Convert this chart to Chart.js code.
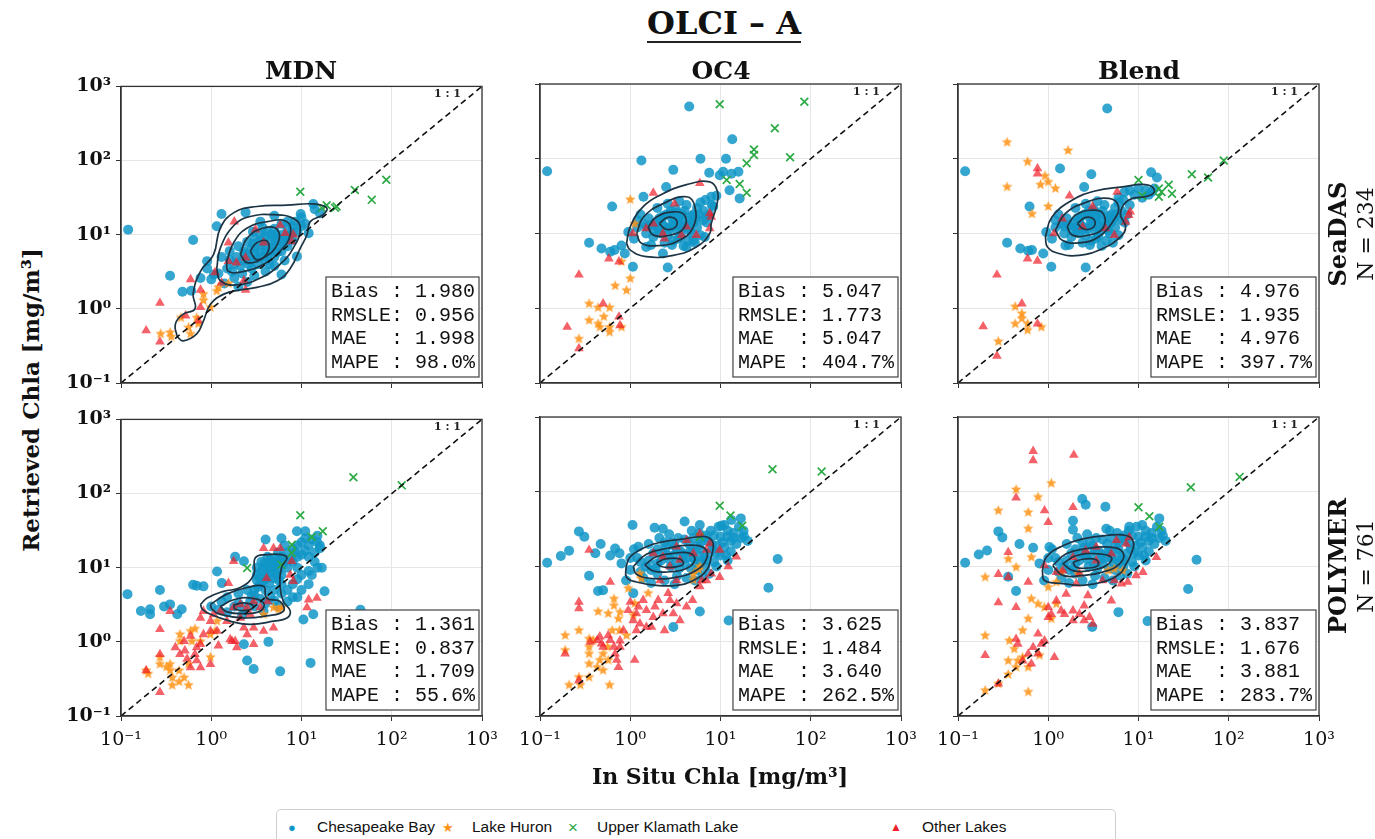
<!DOCTYPE html>
<html>
<head>
<meta charset="utf-8">
<script src="https://cdn.jsdelivr.net/npm/chart.js@4.4.0/dist/chart.umd.min.js"></script>
<style>
  body { margin:0; background:#fff; width:1375px; height:839px; position:relative; overflow:hidden; font-family:"DejaVu Serif", serif; color:#111; }
  canvas.panel { position:absolute; }
  #title { position:absolute; left:0; top:4px; width:1448px; text-align:center; font:bold 32px "DejaVu Serif"; line-height:38px; }
  #title span { display:inline-block; border-bottom:2.5px solid #222; line-height:36px; }
  .lbl { position:absolute; white-space:nowrap; line-height:1; color:#111; }
  #legend { position:absolute; left:276px; top:809px; width:838px; height:40px; border:1px solid #cfcfcf; border-radius:5px; font:15.5px "Liberation Sans", sans-serif; }
  #legend span { position:absolute; top:17px; transform:translateY(-50%); white-space:nowrap; line-height:1; }
</style>
</head>
<body>
<div id="title"><span>OLCI – A</span></div>
<div id="legend">
  <span style="left:11px;color:rgb(16,150,200);font-size:13px">●</span><span style="left:40px">Chesapeake Bay</span>
  <span style="left:165px;color:rgb(255,146,20);font-size:13px">★</span><span style="left:195px">Lake Huron</span>
  <span style="left:291px;color:rgb(44,170,70);font-size:17px">×</span><span style="left:320px">Upper Klamath Lake</span>
  <span style="left:613px;color:rgb(240,30,40);font-size:12px">▲</span><span style="left:645px">Other Lakes</span>
</div>
<script>
// axis ticks
var decades = [0.1, 1, 10, 100, 1000];
var tickLabels = ['10⁻¹', '10⁰', '10¹', '10²', '10³'];
var statNames = ['Bias', 'RMSLE', 'MAE', 'MAPE'];
var oneToOne = [[0.1, 0.1], [1000, 1000]];

// ---- SeaDAS row (N = 234) ----
var mdnSeadasBay = [[0.12,11.7],[0.63,8.5],[0.35,2.8],[0.48,1.7],[0.6,1.75],[1.3,19],[2.4,20],[1.15,13],[0.9,4.4],[0.76,2.6],[1.07,2.9],[8.9,5.1],[6,2.9],[9.8,19],[13.5,26],[10,17],[12,10.5],[16,19.5],[14,22],[11,14],[7,15],[5,18],[3.5,15],
  [1.2,3],[1.5,3.5],[1.8,4],[2.2,4.5],[2.6,5],[3,5.5],[3.5,6],[4,7],[4.5,8],[5,9],[6,10],[7,12],[8,13],[1.3,5],[1.6,6],[2,7],[2.5,8],[3,9],[3.5,10],[4.2,11],[5,12],[6,14],
  [1.4,2.2],[1.8,2.6],[2.2,3],[2.8,3.5],[3.3,4],[4,4.5],[5,5],[6,6],[7,7],[8,8.5],[2,2],[2.5,2.3],[3,2.8],[4,3.2],[5,3.8],[6.5,4.5],[2.3,6],[2.8,6.5],[3.8,8],[4.5,6],[5.5,7],
  [3.2,4.8],[2.6,4],[4.2,5.2],[5.2,10],[6,8],[7.5,10],[1.7,3.2],[1,2.5],[0.9,3.5],[9,11],[10,13],[8.5,15],[3.7,12.5],[2.9,11],
  [2.4,5.5],[2.9,7.5],[3.4,8],[3.9,9.5],[4.6,10],[4.8,6.8],[5.6,8.5],[6.5,9],[3.6,5],[4.4,4],[2.1,3.8],[1.9,5],[2.7,4.4],[3.1,6.6],[4,6],[5.4,5.8],[6.8,8],[7,9.5],[8,11],[1.6,4.6]];
var mdnSeadasHuron = [[0.275,0.46],[0.35,0.48],[0.36,0.42],[0.46,0.76],[0.56,0.56],[0.59,0.46],[0.69,0.76],[0.82,1.58],[0.98,1.05],[1.15,1.74],[0.82,1.3],[0.72,0.63],[1.55,2.2],[1.2,1.95]];
var mdnSeadasKlamath = [[9.7,38],[16.8,23],[19,25],[23.5,23],[24.5,24],[39,40],[60,29.5],[87,55]];
var mdnSeadasOther = [[0.19,0.51],[0.27,1.2],[0.27,0.36],[0.52,0.81],[0.59,2.5],[0.76,1.8],[0.76,1.05],[0.72,0.69],[1.1,3.1],[1.3,2.25],[1.55,4.4],[1.8,15],[2.4,4.9],[3.1,11.7],[2.3,2.4],[3.8,7.8],[5.8,13.5],[6.6,10.5],[8.1,10],[7.8,8.1],[2.4,1.8],[1.55,7.8],[1.9,4.2]];
var mdnSeadasContours = [
  [[0.42,0.42],[0.4,0.62],[0.49,0.85],[0.66,1.0],[0.63,1.6],[0.76,3.2],[1.06,5.4],[1.26,12.3],[1.8,20],[3.2,24],[6.9,25],[13.5,26],[19,23],[17.4,18.6],[12.5,15],[11.5,10],[9.7,6.6],[7.5,3.5],[5.4,2.4],[3.2,1.95],[2.1,1.8],[1.38,1.58],[0.98,1.15],[0.82,0.69],[0.69,0.46],[0.49,0.37],[0.42,0.42]],
  [[1.15,3.5],[1.26,6.6],[1.8,13.5],[2.7,17.6],[4.9,18.6],[8.1,16.6],[9.7,12.3],[8.1,6.6],[5.8,4],[3.5,2.6],[1.9,2.1],[1.26,2.4],[1.15,3.5]],
  [[1.48,4.4],[1.8,8.1],[2.5,12.3],[4.2,15],[6.9,15],[7.5,10],[5.8,6],[3.8,4],[2.3,3.2],[1.55,3.2],[1.48,4.4]],
  [[2.1,5.4],[2.5,9],[3.8,12.3],[5.4,11.7],[5.4,7.4],[3.8,4.9],[2.5,4.2],[2.1,5.4]],
  [[2.7,6],[3.2,7.8],[4.2,8.1],[4.2,5.7],[3.2,4.6],[2.7,6]]];
var mdnSeadasStats = ['1.980', '0.956', '1.998', '98.0%'];

var seadasCoreBay = [[1.2,12],[1.5,10],[1.8,9],[2,12],[2.2,15],[2.5,18],[2.8,20],[3,14],[3.3,11],[3.6,9],[4,12],[4.5,15],[5,18],[5.5,22],[6,26],[6.5,20],[7,14],[4.2,24],[3.5,27],[2.6,25],[1.6,16],[1.3,18],[2,22],[3,8],[2.4,7.5],[1.7,7],[4.8,10],[5.5,12],[6,9.5],[3.8,18],[3.2,21],[2.1,11],[2.9,16],[3.6,13],[4.4,8],[1.1,8.5],[0.95,10.5],[2.3,13],[2.7,11.5],[3.4,16.5],[1.9,14],[4,20],[5,14],[2.6,9.5],[1.4,13.5],[7.5,18],[8,24],[6.8,28],[5.2,7.5],[3.9,6.8],
  [1.5,12.5],[1.8,11],[2.2,10],[2.6,12],[3,12.5],[3.4,14],[3.8,15],[4.4,13],[4.8,17],[5.4,16],[2.3,17],[2.8,18.5],[3.3,19],[1.7,13],[2.1,16],[3.7,10.5],[4.6,11],[6.4,15],[5.8,18],[1.2,15],[2.9,7],[3.4,8.5]];

var oc4SeadasBay = [[0.12,68],[4.5,500],[1.33,95],[3.0,71],[6,100],[11.5,100],[13.5,182],[7.5,65],[9.8,60],[10.7,67],[13.2,63],[15.8,67],[12.6,38],[16.3,29.5],[2.5,42],[1.4,31],[0.63,23],[0.35,7.5],[0.48,6.3],[0.6,5.7],[0.67,6],[0.8,6.9],[0.87,5.4],[1.07,3.6],[2.6,3.5],[2.3,5.4],[1.5,6.6],[7,16.6],[7.9,31],[8.3,23],[6.7,9],[4.2,6.6],[5,8.1],[9,32]];
var oc4SeadasHuron = [[1.0,28.5],[1.12,13.5],[1.0,2.5],[0.91,1.74],[0.68,2],[0.8,4.2],[0.35,1.15],[0.44,1.02],[0.59,1.02],[0.35,0.69],[0.44,0.62],[0.51,0.77],[0.59,0.56],[0.59,0.48],[0.8,0.56],[0.27,0.39],[0.46,0.56]];
var oc4SeadasKlamath = [[9.8,535],[85,580],[40,256],[23.5,133],[23.5,112],[19.5,87],[59,105],[11.7,52],[16.3,46],[19.5,35]];
var oc4SeadasOther = [[0.2,0.56],[0.27,2.8],[0.27,0.29],[0.5,1.15],[0.58,4.6],[0.75,4.2],[0.75,0.77],[0.77,0.59],[1.8,35],[5.9,47],[7.6,18.6],[7.9,16.6],[4.2,12.3],[5.4,9.5],[3.7,9.5],[2.3,10],[1.8,13.5],[1.07,10],[1.5,11.7],[2.4,8.5],[7.6,11.7],[3.1,25]];
var oc4SeadasContours = [
  [[0.91,7.4],[1.0,12.3],[1.4,23],[2.3,34],[4.2,45],[7.6,49],[9.3,36],[9,23],[7.9,13.6],[7.6,10],[5.4,6.6],[3.0,5.1],[1.5,4.9],[1.0,6],[0.91,7.4]],
  [[1.18,10],[1.4,16.6],[2.3,25],[4.2,31],[5.2,23],[5,12.3],[3.5,8.1],[2.1,6.9],[1.33,7.4],[1.18,10]],
  [[1.58,12.3],[1.95,16.6],[3.0,19.5],[4,17.6],[3.9,11.7],[2.75,9.5],[1.8,9.5],[1.58,12.3]],
  [[2.1,13.6],[2.6,16.4],[3.2,15.5],[3.2,12.3],[2.5,11.4],[2.1,13.6]]];
var oc4SeadasStats = ['5.047', '1.773', '5.047', '404.7%'];

var blendSeadasBay = [[0.12,68],[4.5,470],[1.35,74],[3,62],[2.5,42],[13.8,66],[16,56],[0.62,23],[0.35,7.5],[0.49,6.3],[0.6,5.9],[0.66,6],[0.88,5.4],[1.08,3.6],[2.6,3.5],[1.55,6.9],[8,38],[10,40],[12,38],[14,36],[9,33],[11,30],[7,36],[6,30],[15,40],[13,33]];
var blendSeadasHuron = [[0.35,166],[1.66,129],[0.59,91],[0.92,59],[0.35,42],[0.82,45],[1.0,49],[1.2,40],[1.0,23],[0.66,18.3],[0.43,1.05],[0.51,0.85],[0.51,0.73],[0.43,0.62],[0.59,0.62],[0.59,0.51],[0.84,0.56],[0.28,0.36]];
var blendSeadasKlamath = [[10,52],[11,32],[16.8,40],[18,36],[21.6,45],[23.5,34],[16.8,31],[39,62],[59,56],[88,95]];
var blendSeadasOther = [[0.76,74],[0.76,63],[1.72,32],[5.8,36],[7.8,17.6],[8.1,19.5],[7.2,14.3],[3.1,23],[4.3,11.7],[5.4,9.5],[2.4,12.3],[1.16,10],[1.43,15.8],[0.59,4.6],[0.76,4.3],[0.27,2.8],[0.51,1.15],[0.19,0.57],[0.76,0.62],[0.27,0.23]];
var blendSeadasContours = [
  [[0.93,9],[1.1,16.6],[1.85,28],[3.3,37],[6.6,42],[12,45],[15,38],[13,32],[7.8,28],[6.3,18.6],[7.2,12.3],[6.3,9],[4,6.3],[2.2,5.1],[1.31,5.4],[0.98,6.6],[0.93,9]],
  [[1.2,11.1],[1.55,18.6],[2.6,26],[4.7,29.5],[6,23],[5.3,15],[3.6,9],[2.2,7.5],[1.43,8.1],[1.2,11.1]],
  [[1.62,12.3],[2.0,17.6],[3.1,20.5],[4.1,18.2],[4,11.7],[2.8,9.5],[1.85,9.5],[1.62,12.3]],
  [[2.1,13.6],[2.6,16.4],[3.2,15.5],[3.2,12.3],[2.5,11.4],[2.1,13.6]]];
var blendSeadasStats = ['4.976', '1.935', '4.976', '397.7%'];

// ---- POLYMER row (N = 761) ----
var mdnPolymerBay = [[0.118,4.4],[0.166,2.6],[0.21,2.75],[0.21,2.35],[0.27,5],[0.3,3],[0.35,3.2],[0.42,2.35],[0.47,2.75],[0.63,5.9],[0.69,5.7],[0.82,5.6],[1.16,8.9],[1.31,6.2],[1.84,14],[2.3,12.2],[4,24],[6,25],[8.9,31],[11,31],[14.8,22.4],[16,18.3],[18,4.8],[16.8,10],[45,2.7],[45,0.48],[12.6,0.52],[5.8,0.4],[2.95,0.43],[2.5,0.56],[4.3,1.0],[2.3,0.93],[10.5,2.0],[13.5,2.35],
  [1,3],[1.2,2.7],[1.5,2.5],[1.8,3],[2,3.3],[2.3,2.8],[2.7,3.5],[3,3],[3.5,3.8],[4,3.3],[4.5,4],[5,3.6],[6,4.5],[7,5],[8,6],[9,7],[10,8],[12,9],[14,12],[3,5],[3.5,6],[4,7],[4.5,8.5],[5,10],[5.5,12],[6,14],[7,16],[8,18],[9,20],[10,22],[11,25],
  [6,8],[7,10],[8,12],[9,14],[10,15],[11,17],[12,20],[13,24],[15,27],[9,10],[12,14],[14,16],[16,20],[6,6],[5,5],[10,5],[12,6],[13,8],[15,10],[8,4],[2,4.5],[2.5,5],[1.5,4],[3.2,8],[3.8,10],[4.5,13],[5.5,16],[6.5,20],
  [3,4.2],[4,5],[1.3,3.5],[2.2,2.3],[3.8,2.6],[5.5,3],[7,3.5],[9,4],[3.2,10],[3.6,12],[4.2,14],[4.8,11],[5.2,8],[3.4,7.5],[4.4,6.2],[5.6,6.8],
  [3.3,5.5],[3.7,6.5],[4.1,8],[4.6,9.5],[5.1,11.5],[5.4,13.5],[3.6,9],[4.3,10.5],[4.9,7.2],[5.6,9],[3.9,11.5],[4.6,12.5],[6.2,11],[6.6,12.5],[7.5,13],[8.5,16],[3.2,6.8],[2.8,4.2]];
var mdnPolymerHuron = [[0.19,0.41],[0.2,0.37],[0.27,0.62],[0.27,0.5],[0.35,0.5],[0.35,0.41],[0.37,0.33],[0.44,0.41],[0.44,0.29],[0.37,0.26],[0.5,0.33],[0.56,0.26],[0.45,1.02],[0.59,1.4],[0.66,1.5],[0.76,1.02],[0.98,1.26],[1.1,1.4],[0.98,0.62],[0.56,0.5],[0.61,1.02],[4.9,2.9],[5.6,2.75],[6,2.9],[1.16,1.9],[3.8,2.35],[0.45,1.26],[0.32,0.46]];
var mdnPolymerKlamath = [[37.6,166],[129,129],[9.7,51],[13,26],[17.2,31],[7.8,20.4],[7.8,15.8],[6,11],[2.5,9.9]];
var mdnPolymerOther = [[0.19,0.41],[0.27,1.48],[0.27,0.68],[0.27,0.21],[0.35,2.6],[0.4,0.84],[0.45,0.68],[0.51,0.76],[0.54,0.59],[0.59,0.45],[0.66,0.68],[0.69,0.56],[0.76,0.93],[0.76,0.45],[0.69,0.84],[0.59,1.2],[0.5,1.02],[0.82,1.26],[0.98,1.4],[0.98,0.5],[1.16,1.4],[1.2,0.89],[1.62,1.08],[1.7,1.02],[1.84,1.02],[1.92,0.84],[2.3,1.55],[2.5,1.26],[2.95,0.93],[2.95,1.55],[3.8,1.4],[4.9,1.55],[1.49,1.9],[0.98,1.9],[0.82,2.6],[1.55,6.2],[1.77,12.2],[3.8,18.3],[4.9,18.3],[5.8,18.3],[7.8,12.2],[7.5,8],[8.1,6.6],[12,3.7],[14.8,3.9],[4.1,7.2],[2.1,3.2],[2.5,2.9],[2.95,3.5],[3.5,2.9],[1.77,2.9],[1.26,2.6],[1.06,2.35],[0.76,2.1],[11.5,2.9],[2.7,2.35],[4.2,3.5],[2.1,2.1]];
var mdnPolymerContours = [
  [[0.76,3.2],[0.9,3.9],[1.37,4.8],[2.1,5.4],[2.95,8],[3.07,13.5],[4.1,15],[6,15],[6.9,13.5],[6,10],[5.8,5.4],[6.3,3.5],[7.5,2.6],[6.9,2.1],[4.9,1.9],[2.7,1.72],[1.62,1.9],[0.98,2.35],[0.8,2.75],[0.76,3.2]],
  [[0.98,3.2],[1.49,4.4],[2.5,5.4],[3.8,5.6],[4.1,3.9],[5.8,3.5],[6.3,2.6],[4.1,2.24],[2.3,2.1],[1.26,2.35],[1.02,2.75],[0.98,3.2]],
  [[1.26,3.0],[1.77,3.7],[2.7,3.9],[3.8,3.35],[3.5,2.6],[2.3,2.4],[1.49,2.54],[1.26,3.0]],
  [[1.77,3.13],[2.3,3.35],[2.95,3.0],[2.5,2.66],[1.85,2.75],[1.77,3.13]]];
var mdnPolymerStats = ['1.361', '0.837', '1.709', '55.6%'];

var polymerCoreBay = [[0.8,11],[1,9],[1.2,13],[1.5,10],[1.8,15],[2,8],[2.2,12],[2.5,18],[2.8,10],[3,14],[3.3,7.5],[3.6,16],[4,11],[4.5,20],[5,13],[5.5,9],[6,17],[6.5,24],[7,12],[8,20],[9,15],[10,25],[11,18],[12,30],[13,22],[14,28],[15,20],[1.4,7],[1.7,6],[2.4,6.5],[3.1,5.8],[4.2,7],[5.2,6.5],[6.3,7.5],[7.5,8],[0.9,6.5],[1.1,17],[1.6,20],[2.1,24],[2.7,27],[3.4,24],[4.8,30],[5.8,28],[7.8,30],[9.5,34],[11,36],[16,34],[18,30],[17,24],[20,22],[9,10],[12,12],[1.3,11.5],[2.6,14],[3.8,12.5],[4.6,16],[5.6,19],[7.2,22],[8.5,26],[1.9,9.5],[2.9,21],[3.5,9.5],[6,11],[10,14],[13,16],
  [1.6,12],[2,11],[2.3,15],[2.7,12.5],[3.2,11],[3.3,16.5],[3.9,14.5],[4.3,13],[4.9,16],[5.3,11.5],[5.9,14],[6.6,13],[7.5,15],[8.2,17],[9.3,19],[10.5,21],[2,17],[2.4,21],[3.1,19],[4,23],[5,24],[6,21],[7,26],[1.3,8.5],[1.7,9],[4.7,9.5],[6.8,10],[8.5,11.5],[11.5,14],[1,13],[14,24],[12,25]];

var oc4PolymerBay = [[0.12,11.2],[0.17,13.8],[0.21,16.3],[0.27,29.5],[0.31,25],[0.35,7.5],[0.44,4.7],[0.47,20],[0.41,15],[0.6,14],[0.68,17.4],[0.76,15],[1.06,36],[1.23,18.4],[1.86,33],[2.3,32],[4,40],[5.9,36],[10.2,35],[13.2,42],[16.8,44],[18.2,25.4],[43,12.6],[34,5.2],[42,2],[12.3,1.9],[5.9,2.5],[3,1.55],[0.5,4.8],[1.08,4.4]];
var oc4PolymerHuron = [[0.19,1.2],[0.19,0.76],[0.27,1.4],[0.27,0.33],[0.35,1.08],[0.35,0.84],[0.35,0.68],[0.35,0.5],[0.35,0.33],[0.44,2.5],[0.46,0.56],[0.5,0.41],[0.56,0.84],[0.57,2.35],[0.59,0.26],[0.63,1.4],[0.66,3.7],[0.66,3.0],[0.74,2],[0.76,1.4],[0.91,1.2],[0.95,5.1],[1.12,3.2],[1.28,8],[1.58,4.4],[1.08,2.24],[5.7,9.1],[5,8],[5,6.6],[5.9,10],[1.33,6.9],[0.77,2.45],[0.43,0.45],[0.5,0.68],[0.57,0.56],[0.39,1.03],[0.21,0.26],[0.28,0.26]];
var oc4PolymerKlamath = [[37.7,200],[132,186],[9.8,65],[12.9,48],[17.4,35],[5.9,25]];
var oc4PolymerOther = [[0.19,0.68],[0.27,3.35],[0.27,2.75],[0.27,0.3],[0.35,16.6],[0.43,1.03],[0.46,1.15],[0.48,0.93],[0.5,0.84],[0.6,6.2],[0.6,1.03],[0.66,0.84],[0.68,0.68],[0.71,0.56],[0.74,0.45],[0.77,1.02],[0.77,0.84],[0.84,1.4],[0.95,2.6],[1.0,3.35],[1.08,1.9],[1.17,2.35],[1.23,2.9],[1.28,1.72],[1.39,3.55],[1.51,2.6],[1.72,1.55],[1.8,2.1],[1.88,2.9],[2.04,3.55],[2.3,2.35],[2.63,4.4],[2.75,3.55],[3,2.35],[3.26,3.2],[3.55,1.9],[4.2,2.9],[4.9,3.55],[5.9,5.4],[6.2,6.5],[7,6.5],[7.9,8],[9.8,7.2],[12.2,10],[15,13.5],[9.8,16.6],[7.6,20.4],[5.9,27.5],[4.2,22.4],[3.26,18.4],[2.3,13.5],[1.8,15],[2.75,10],[3.55,12.2],[5,15],[7,16.6],[1.12,0.56],[1.17,1.4],[2.14,6.5],[3.26,6.5],[1.51,1.55],[2.4,1.4],[0.57,1.2],[0.36,0.98]];
var oc4PolymerContours = [
  [[0.9,10],[1.0,13.5],[1.51,18.4],[2.3,21.4],[3.55,23],[5.9,25],[7.3,24.5],[8.3,20.4],[7.9,13.5],[7,8.9],[5,6.5],[3.26,5.6],[1.95,5.6],[1.17,6.2],[0.91,7.2],[0.9,10]],
  [[1.08,10],[1.51,14.6],[2.5,17.4],[4.6,19.3],[6.7,17.4],[7,12.7],[5.4,8.9],[3.26,7.2],[1.8,6.9],[1.17,7.9],[1.08,10]],
  [[1.45,10.5],[1.95,13.5],[3,15],[4.6,15],[5.2,12.2],[4.2,9.4],[2.75,8.5],[1.8,8.7],[1.45,10.5]],
  [[1.95,11.2],[2.5,12.7],[3.55,12.6],[3.86,10.7],[3,9.8],[2.2,10],[1.95,11.2]]];
var oc4PolymerStats = ['3.625', '1.484', '3.640', '262.5%'];

var blendPolymerBay = [[0.12,11.2],[0.17,14.5],[0.21,16.4],[0.28,29.5],[0.31,24.5],[0.36,7.3],[0.44,4.7],[0.48,20],[0.68,17.8],[1.03,18.2],[1.88,41],[2.38,80],[4.3,63],[4.4,32],[7.9,34],[17,44],[18.6,26],[44,12.3],[35.5,5],[44,2],[12.6,1.86],[6,2.45],[3.07,1.55],[2.6,67],[1.88,31]];
var blendPolymerHuron = [[0.44,107],[1.08,130],[0.77,85],[0.28,56],[0.6,53],[0.6,32],[0.36,12.6],[0.44,9.8],[0.2,7.2],[0.65,13.3],[1.0,5.3],[0.65,3.7],[0.77,3.16],[0.91,2.85],[1.23,3.16],[1.08,2.0],[0.6,2.0],[0.52,1.4],[0.37,1.02],[0.42,0.79],[0.36,0.55],[0.2,1.19],[0.44,0.45],[0.6,0.45],[0.36,0.36],[0.2,0.22],[0.28,0.27],[0.6,0.21],[0.8,0.65],[0.52,0.61],[0.46,0.55],[1.39,8.4],[2.14,8],[4.6,8.8],[5.4,9.3],[6.7,8.8],[1.23,6.2]];
var blendPolymerKlamath = [[38,115],[132,158],[10,62],[13.2,47],[17,34]];
var blendPolymerOther = [[0.68,350],[0.68,263],[1.92,310],[0.44,83],[0.91,56],[1.88,62],[1.0,39],[0.36,15.5],[0.91,10.3],[0.28,7.9],[0.6,6.2],[0.28,3.3],[0.44,2.85],[0.36,7.2],[1.0,2.85],[1.08,2.3],[1.23,3.5],[1.39,2.57],[1.51,2.3],[1.88,1.9],[1.88,2.57],[2.22,2.3],[2.5,3.0],[2.86,2.1],[3.12,1.7],[2.5,1.9],[1.0,2.1],[0.77,1.26],[0.84,0.92],[0.68,0.83],[0.6,0.68],[0.52,0.55],[0.65,0.5],[0.77,0.68],[0.91,1.02],[1.17,0.61],[0.46,0.92],[0.44,1.07],[0.2,0.65],[0.28,0.27],[5,3.5],[6.5,5.9],[7.6,6.2],[9.4,7.6],[11.2,8.4],[15.8,13.3],[7.3,20],[7.9,24.5],[5.7,22.4],[3.4,18.2],[2.6,16.4],[1.88,13.3],[1.45,8.8],[2.22,8],[3.4,12],[5,14.8],[1.23,8.4],[5.4,6.5],[1.58,4.3],[2.75,4.1],[4,6.5],[2.04,5.9]];
var blendPolymerContours = [
  [[0.86,8.8],[0.95,13.3],[1.45,19],[2.42,23.4],[4.4,26],[7.3,26],[8.8,21.2],[8.3,14.8],[7.3,10.9],[6.2,8],[4,6.2],[2.42,5.6],[1.45,5.9],[0.91,6.5],[0.86,8.8]],
  [[1.12,10.3],[1.58,14.8],[2.63,17.3],[4.8,18.2],[6.7,15.5],[6.2,10.9],[4,8.4],[2.42,7.6],[1.45,7.6],[1.12,10.3]],
  [[1.45,10.9],[2.04,14],[3.4,14.8],[5,13.3],[4.4,10.3],[2.86,8.8],[1.88,8.8],[1.45,10.9]],
  [[1.88,11.4],[2.5,12.6],[3.4,12.3],[3.55,10.3],[2.63,9.5],[2.04,9.8],[1.88,11.4]]];
var blendPolymerStats = ['3.837', '1.676', '3.881', '283.7%'];

var panels = [
  {row:0, col:0, bay:mdnSeadasBay, huron:mdnSeadasHuron, klamath:mdnSeadasKlamath, other:mdnSeadasOther, contours:mdnSeadasContours, stats:mdnSeadasStats},
  {row:0, col:1, bay:oc4SeadasBay.concat(seadasCoreBay), huron:oc4SeadasHuron, klamath:oc4SeadasKlamath, other:oc4SeadasOther, contours:oc4SeadasContours, stats:oc4SeadasStats},
  {row:0, col:2, bay:blendSeadasBay.concat(seadasCoreBay), huron:blendSeadasHuron, klamath:blendSeadasKlamath, other:blendSeadasOther, contours:blendSeadasContours, stats:blendSeadasStats},
  {row:1, col:0, bay:mdnPolymerBay, huron:mdnPolymerHuron, klamath:mdnPolymerKlamath, other:mdnPolymerOther, contours:mdnPolymerContours, stats:mdnPolymerStats},
  {row:1, col:1, bay:oc4PolymerBay.concat(polymerCoreBay), huron:oc4PolymerHuron, klamath:oc4PolymerKlamath, other:oc4PolymerOther, contours:oc4PolymerContours, stats:oc4PolymerStats},
  {row:1, col:2, bay:blendPolymerBay.concat(polymerCoreBay), huron:blendPolymerHuron, klamath:blendPolymerKlamath, other:blendPolymerOther, contours:blendPolymerContours, stats:blendPolymerStats}
];

// layout of the 2x3 grid (plot area corners, page px)
var plotLeft = [121, 540, 958];
var plotTop = [84, 417];
var plotW = 361, plotH = 299;
var padL = 70, padT = 14, padR = 24, padB = 45;

var blue = 'rgba(16,150,200,0.85)';
var orange = 'rgba(255,146,20,0.85)';
var green = 'rgb(44,170,70)';
var red = 'rgba(240,30,40,0.7)';
var contourColor = '#1d3444';

function makeStar(color, r) {
  var c = document.createElement('canvas');
  var s = Math.ceil(r * 2 + 2);
  c.width = s; c.height = s;
  var g = c.getContext('2d');
  g.fillStyle = color;
  g.beginPath();
  for (var i = 0; i < 10; i++) {
    var a = -Math.PI / 2 + i * Math.PI / 5;
    var rr = (i % 2 === 0) ? r : r * 0.45;
    g.lineTo(s / 2 + rr * Math.cos(a), s / 2 + rr * Math.sin(a));
  }
  g.closePath();
  g.fill();
  return c;
}
var starImg = makeStar(orange, 5.5);

function pts(arr) {
  return arr.map(function(p) { return {x: p[0], y: p[1]}; });
}

var framePlugin = {
  id: 'frame',
  afterDraw: function(chart, args, opts) {
    var ctx = chart.ctx, a = chart.chartArea;
    ctx.save();
    ctx.strokeStyle = '#333';
    ctx.lineWidth = 1.3;
    ctx.strokeRect(a.left, a.top, a.right - a.left, a.bottom - a.top);
    // 1:1 tag
    ctx.fillStyle = '#222';
    ctx.font = 'bold 11px "DejaVu Serif"';
    ctx.textAlign = 'right';
    ctx.textBaseline = 'middle';
    ctx.fillText('1 : 1', a.right - 21, a.top + 8);
    // stats box
    var lines = opts.stats.map(function(v, i) { return (statNames[i] + '     ').slice(0, 5) + ': ' + v; });
    ctx.font = '20px "Liberation Mono"';
    var w = Math.max.apply(null, lines.map(function(l) { return ctx.measureText(l).width; })) + 9;
    var h = 100;
    var x = a.right - 3 - w, y = a.bottom - 6 - h;
    ctx.fillStyle = '#fff';
    ctx.fillRect(x, y, w, h);
    ctx.strokeStyle = '#444';
    ctx.lineWidth = 1.2;
    ctx.strokeRect(x, y, w, h);
    ctx.fillStyle = '#111';
    ctx.textAlign = 'left';
    lines.forEach(function(l, i) { ctx.fillText(l, x + 5, y + 15 + i * 23.5); });
    ctx.restore();
  }
};

function axis(showLabels, bold, isY) {
  return {
    type: 'logarithmic',
    min: 0.1,
    max: 1000,
    afterBuildTicks: function(s) { s.ticks = decades.map(function(v) { return {value: v}; }); },
    afterFit: function(s) { if (isY) s.width = padL; else s.height = padB; },
    ticks: {
      display: showLabels,
      autoSkip: false,
      maxRotation: 0,
      padding: isY ? 5 : 8,
      color: '#111',
      font: {family: '"DejaVu Serif"', size: 19, weight: bold ? 'bold' : 'normal'},
      callback: function(v, i) { return tickLabels[i]; }
    },
    grid: {color: '#e6e6e6', lineWidth: 1, tickColor: '#333', tickLength: 5},
    border: {color: '#333', width: 1.3}
  };
}

panels.forEach(function(p) {
  var cv = document.createElement('canvas');
  cv.className = 'panel';
  cv.width = plotW + padL + padR;
  cv.height = plotH + padT + padB;
  cv.style.left = (plotLeft[p.col] - padL) + 'px';
  cv.style.top = (plotTop[p.row] - padT) + 'px';
  document.body.appendChild(cv);

  var datasets = [
    {data: pts(p.bay), pointStyle: 'circle', pointRadius: 5, backgroundColor: blue, borderWidth: 0, order: 10},
    {data: pts(p.huron), pointStyle: starImg, pointRadius: 5.5, backgroundColor: orange, borderWidth: 0, order: 9},
    {data: pts(p.klamath), pointStyle: 'crossRot', pointRadius: 5.5, borderColor: green, borderWidth: 1.7, order: 8},
    {data: pts(p.other), pointStyle: 'triangle', pointRadius: 5.6, backgroundColor: red, borderWidth: 0, order: 7}
  ];
  p.contours.forEach(function(c) {
    datasets.push({data: pts(c), showLine: true, pointRadius: 0, borderColor: contourColor, borderWidth: 1.7, tension: 0.45, fill: false, order: 2});
  });
  datasets.push({data: pts(oneToOne), showLine: true, pointRadius: 0, borderColor: '#111', borderWidth: 1.6, borderDash: [6, 4], tension: 0, fill: false, order: 1});

  new Chart(cv.getContext('2d'), {
    type: 'scatter',
    data: {datasets: datasets},
    options: {
      responsive: false,
      animation: false,
      events: [],
      layout: {padding: {left: 0, top: padT, right: padR, bottom: 0}},
      plugins: {legend: {display: false}, tooltip: {enabled: false}, frame: {stats: p.stats}},
      scales: {
        x: axis(p.row === 1, false, false),
        y: axis(p.col === 0, true, true)
      }
    },
    plugins: [framePlugin]
  });
});

function addText(txt, cx, cy, font, rot) {
  var d = document.createElement('div');
  d.className = 'lbl';
  d.textContent = txt;
  d.style.left = cx + 'px';
  d.style.top = cy + 'px';
  d.style.font = font;
  d.style.transform = 'translate(-50%,-50%)' + (rot ? ' rotate(-90deg)' : '');
  document.body.appendChild(d);
}
addText('MDN', 301, 70, 'bold 25px "DejaVu Serif"');
addText('OC4', 721, 70, 'bold 25px "DejaVu Serif"');
addText('Blend', 1139, 70, 'bold 25px "DejaVu Serif"');
addText('Retrieved Chla [mg/m³]', 30, 400, 'bold 23px "DejaVu Serif"', true);
addText('In Situ Chla [mg/m³]', 720, 776, 'bold 22px "DejaVu Serif"');
addText('SeaDAS', 1337, 234, 'bold 24px "DejaVu Serif"', true);
addText('N = 234', 1365, 234, '22px "DejaVu Serif"', true);
addText('POLYMER', 1337, 566, 'bold 24px "DejaVu Serif"', true);
addText('N = 761', 1365, 566, '22px "DejaVu Serif"', true);
</script>
</body>
</html>
